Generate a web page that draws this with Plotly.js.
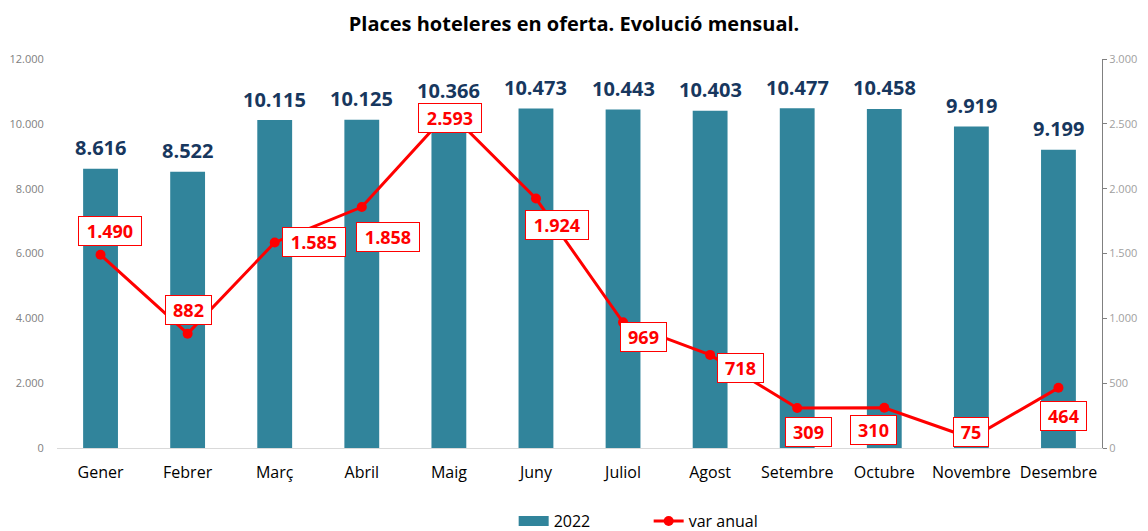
<!DOCTYPE html>
<html>
<head>
<meta charset="utf-8">
<script src="https://cdn.plot.ly/plotly-3.0.1.min.js"></script>
<style>body{margin:0;background:#fff}#chart{width:1148px;height:531px}</style>
</head>
<body>
<div id="chart"></div>
<script>
const months = ["Gener","Febrer","Març","Abril","Maig","Juny","Juliol","Agost","Setembre","Octubre","Novembre","Desembre"];
const places2022 = [8616, 8522, 10115, 10125, 10366, 10473, 10443, 10403, 10477, 10458, 9919, 9199];
const varAnual = [1490, 882, 1585, 1858, 2593, 1924, 969, 718, 309, 310, 75, 464];

// label offsets (pixels) for the red boxed labels
const labelShiftX = [9, 1, 39, 26, 1, 21, 20, 30, 11, -11, 0, 5];
const labelShiftY = [24, 24, 0, -30, -6, -26, -15, -13, -24, -22, 6, -28];

const fmt = v => v.toLocaleString('de-DE');
const boxWidth = s => 10 + 11 * s.replace(/\D/g, '').length + (s.indexOf('.') >= 0 ? 6 : 0);

const barTrace = {
  type: 'bar', x: months, y: places2022, name: '2022', showlegend: false,
  marker: {color: '#31849B'}, width: 0.4,
  hoverinfo: 'skip'
};
// legend entry for the bars (wide swatch as in the original)
const barLegend = {
  type: 'scatter', mode: 'lines', x: [months[0]], y: [null], name: '2022',
  line: {color: '#31849B', width: 10}, hoverinfo: 'skip'
};
const lineTrace = {
  type: 'scatter', mode: 'lines+markers', x: months, y: varAnual, name: 'var anual',
  yaxis: 'y2', line: {color: '#FF0000', width: 3}, marker: {color: '#FF0000', size: 10},
  hoverinfo: 'skip', cliponaxis: false
};

const barLabels = places2022.map((v, i) => ({
  x: months[i], y: v, xref: 'x', yref: 'y', text: '<b>' + fmt(v) + '</b>',
  showarrow: false, yanchor: 'middle', yshift: 21,
  font: {family: 'Open Sans, sans-serif', size: 20, color: '#17375E'}
}));

const lineLabels = varAnual.map((v, i) => ({
  x: months[i], y: v, xref: 'x', yref: 'y2', text: '<b>' + fmt(v) + '</b>',
  showarrow: false, xshift: labelShiftX[i], yshift: labelShiftY[i],
  width: boxWidth(fmt(v)), height: 26, align: 'center', valign: 'middle',
  font: {family: 'Open Sans, sans-serif', size: 18, color: '#FF0000'},
  bgcolor: '#FFFFFF', bordercolor: '#FF0000', borderwidth: 1, borderpad: 1
}));

const layout = {
  width: 1148, height: 531,
  margin: {l: 57, r: 46, t: 59, b: 83, autoexpand: false},
  paper_bgcolor: '#FFFFFF', plot_bgcolor: '#FFFFFF',
  title: {text: '<b>Places hoteleres en oferta. Evolució mensual.</b>', x: 0.5, xanchor: 'center', y: 0.955, yanchor: 'middle',
    font: {family: 'Open Sans, sans-serif', size: 20, color: '#000000'}},
  xaxis: {type: 'category', range: [-0.5, 11.5], automargin: false, showgrid: false, showline: true, linecolor: '#D9D9D9', linewidth: 1,
    ticks: 'outside', ticklen: 10, tickcolor: 'rgba(0,0,0,0)',
    tickfont: {family: 'Open Sans, sans-serif', size: 16, color: '#000000'}, fixedrange: true},
  yaxis: {range: [0, 12000], automargin: false, tickvals: [0,2000,4000,6000,8000,10000,12000],
    ticktext: ['0','2.000','4.000','6.000','8.000','10.000','12.000'],
    showgrid: false, zeroline: false, showline: false, ticks: 'outside', ticklen: 10, tickcolor: 'rgba(0,0,0,0)',
    tickfont: {family: 'Open Sans, sans-serif', size: 11, color: '#808080'}, fixedrange: true},
  yaxis2: {range: [0, 3000], automargin: false, overlaying: 'y', side: 'right', tickvals: [0,500,1000,1500,2000,2500,3000],
    ticktext: ['0','500','1.000','1.500','2.000','2.500','3.000'],
    showgrid: false, zeroline: false, showline: true, linecolor: '#808080', linewidth: 1,
    ticks: 'outside', ticklen: 4, tickcolor: '#808080',
    tickfont: {family: 'Open Sans, sans-serif', size: 11, color: '#A0A0A0'}, fixedrange: true},
  showlegend: true,
  legend: {orientation: 'h', x: 0.437, xanchor: 'left', y: -0.144, yanchor: 'top', entrywidth: 90,
    font: {family: 'Open Sans, sans-serif', size: 16, color: '#000000'}},
  annotations: barLabels.concat(lineLabels)
};

Plotly.newPlot('chart', [barTrace, barLegend, lineTrace], layout, {displayModeBar: false, staticPlot: true});
</script>
</body>
</html>
